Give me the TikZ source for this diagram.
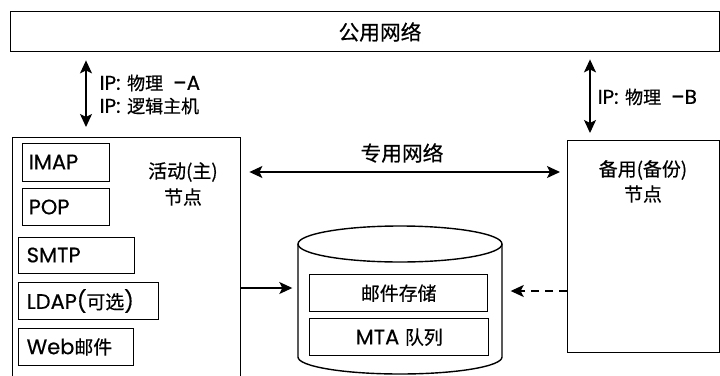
\documentclass[tikz,border=0pt]{standalone}
\usepackage{fontspec}
\setmainfont{Poppins}[FakeBold=0.5]
\newfontfamily\cjk[Scale=0.9,FakeBold=0.5]{Noto Sans CJK SC}
\usetikzlibrary{arrows.meta}
\begin{document}
\begin{tikzpicture}[x=1pt,y=-1pt,line width=1.4pt,
  box/.style={draw,inner sep=0pt,anchor=north west},
  big/.style={font=\fontsize{21}{25}\selectfont},
  title/.style={font=\fontsize{23}{27}\selectfont\cjk},
  iplbl/.style={font=\fontsize{20}{24}\selectfont,anchor=west,inner sep=0pt},
  con/.style={line width=1.4pt,-{Stealth[length=13pt,width=12pt,inset=3pt]}},
  bicon/.style={line width=1.4pt,{Stealth[length=13pt,width=12pt,inset=3pt]}-{Stealth[length=13pt,width=12pt,inset=3pt]}},
  dcon/.style={con,dash pattern=on 8pt off 6pt}]
\fill[white] (0,0) rectangle (720,375);
\useasboundingbox (0,0) rectangle (720,375);
\clip (0,0) rectangle (720,375);

% public network
\node[box,minimum width=709pt,minimum height=40pt] (pub) at (10,11) {};
\node[title] (tpub) at (380,32) {公用网络};

% active node
\node[box,minimum width=228pt,minimum height=250pt] (active) at (12,137) {};
\node[big] (tact1) at (183,172) {\cjk 活动(主)};
\node[big] (tact2) at (183,197) {\cjk 节点};

\node[box,minimum width=87pt,minimum height=38pt] (imap) at (22,143) {};
\node[big,anchor=west,inner sep=0pt] (timap) at (28,162) {IMAP};
\node[box,minimum width=87pt,minimum height=37pt] (pop) at (22,188) {};
\node[big,anchor=west,inner sep=0pt] (tpop) at (28,207) {POP};
\node[box,minimum width=116pt,minimum height=36pt] (smtp) at (18,237) {};
\node[big,anchor=west,inner sep=0pt] (tsmtp) at (26,255) {SMTP};
\node[box,minimum width=140pt,minimum height=37pt] (ldap) at (18,282) {};
\node[big,anchor=west,inner sep=0pt] (tldap) at (26,301) {LDAP({\cjk 可选})};
\node[box,minimum width=115pt,minimum height=37pt] (web) at (18,328) {};
\node[big,anchor=west,inner sep=0pt] (tweb) at (26,347) {Web{\cjk 邮件}};

% backup node
\node[box,minimum width=152pt,minimum height=212pt] (backup) at (567,140) {};
\node[big] (tbk1) at (643,170) {\cjk 备用(备份)};
\node[big] (tbk2) at (643,194) {\cjk 节点};

% cylinder
\draw[fill=white] (298,244) -- (298,357) arc[start angle=180,end angle=360,x radius=102pt,y radius=17pt] -- (502,244);
\draw (400,244) ellipse[x radius=102pt,y radius=18pt];
\node[minimum width=204pt,minimum height=131pt,inner sep=0pt] (cyl) at (400,300) {};
\node[box,minimum width=178pt,minimum height=37pt] (store) at (309,274) {};
\node[big] (tstore) at (store.center) {\cjk 邮件存储};
\node[box,minimum width=179pt,minimum height=37pt] (mta) at (309,318) {};
\node[big] (tmta) at (mta.center) {MTA {\cjk 队列}};

% IP arrows
\coordinate (xa) at (86,0);
\coordinate (xb) at (590,0);
\draw[bicon,shorten <=8pt,shorten >=10pt] (xa |- pub.south) -- (xa |- active.north);
\draw[bicon,shorten <=7pt,shorten >=7pt] (xb |- pub.south) -- (xb |- backup.north);
\node[iplbl] (ipa1) at (99,83) {IP:\,\,{\cjk 物理}\,\,\,–A};
\node[iplbl] (ipa2) at (99,106) {IP:\,\,{\cjk 逻辑主机}};
\node[iplbl] (ipb) at (597,97) {IP:\,\,{\cjk 物理}\,\,\,–B};

% private network
\coordinate (yp) at (0,172);
\draw[bicon,shorten <=8pt,shorten >=7pt] (yp -| active.east) -- (yp -| backup.west);
\node[title] (tpriv) at (402,153) {专用网络};

% storage links
\coordinate (ys) at (0,288);
\coordinate (yd) at (0,291);
\draw[con,shorten >=5pt] (ys -| active.east) -- (ys -| cyl.west);
\draw[dcon,shorten >=8pt] (yd -| backup.west) -- (yd -| cyl.east);
\end{tikzpicture}
\end{document}
